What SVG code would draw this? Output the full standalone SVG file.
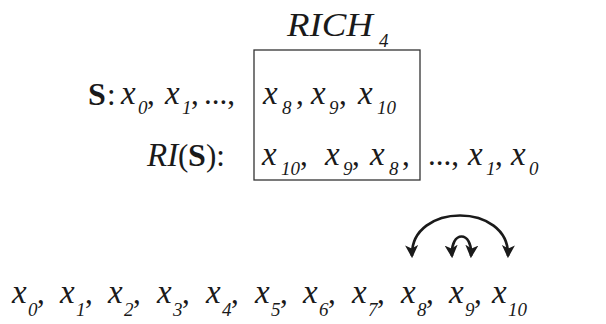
<svg xmlns="http://www.w3.org/2000/svg" width="606" height="324" viewBox="0 0 606 324">
<style>
text{font-family:"Liberation Serif","Times New Roman",serif;fill:#1a1a1a}
.m{font-style:italic;font-size:33px}
.s{font-style:italic;font-size:19px}
.b{font-weight:bold;font-size:32px}
.r{font-size:31px}
.arc{fill:none;stroke:#1a1a1a;stroke-width:2.6}
</style>
<defs>
<marker id="ah" viewBox="0 0 12 12" refX="10" refY="6" markerWidth="13" markerHeight="13" markerUnits="userSpaceOnUse" orient="auto-start-reverse">
<path d="M0,0 L12,6 L0,12 L3,6 Z" fill="#1a1a1a"/>
</marker>
</defs>
<g id="rich">
<text class="m" x="287" y="36" textLength="86" lengthAdjust="spacingAndGlyphs">RICH</text>
<text class="s" x="379" y="47">4</text>
</g>
<g id="box">
<rect x="254" y="50" width="166" height="130" fill="none" stroke="#333" stroke-width="1.3"/>
</g>
<g id="row-s">
<text class="b" x="88" y="105">S</text><text class="r" x="107" y="105">:</text>
<text class="m" x="121" y="104">x</text><text class="s" x="138" y="114">0</text><text class="r" x="147" y="104">,</text>
<text class="m" x="165" y="104">x</text><text class="s" x="182" y="114">1</text><text class="r" x="191" y="104">,</text>
<text class="r" x="204" y="104">...,</text>
<text class="m" x="263" y="104">x</text><text class="s" x="282" y="114">8</text><text class="r" x="296" y="104">,</text>
<text class="m" x="311" y="104">x</text><text class="s" x="329" y="114">9</text><text class="r" x="339" y="104">,</text>
<text class="m" x="358" y="104">x</text><text class="s" x="377" y="114">10</text>
</g>
<g id="row-ri">
<text class="m" x="147" y="166">RI</text><text class="r" x="178" y="166">(</text><text class="b" x="188" y="166">S</text><text class="r" x="206" y="166">):</text>
<text class="m" x="262" y="165">x</text><text class="s" x="281" y="175">10</text><text class="r" x="300" y="165">,</text>
<text class="m" x="325" y="165">x</text><text class="s" x="343" y="175">9</text><text class="r" x="352" y="165">,</text>
<text class="m" x="370" y="165">x</text><text class="s" x="389" y="175">8</text><text class="r" x="402" y="165">,</text>
<text class="r" x="428" y="165">...,</text>
<text class="m" x="468" y="165">x</text><text class="s" x="486" y="175">1</text><text class="r" x="495" y="165">,</text>
<text class="m" x="511" y="165">x</text><text class="s" x="529" y="175">0</text>
</g>
<g id="bottom-row">
<text class="m" x="12" y="303">x</text><text class="s" x="28" y="316">0</text><text class="r" x="37" y="303">,</text>
<text class="m" x="60" y="303">x</text><text class="s" x="76" y="316">1</text><text class="r" x="85" y="303">,</text>
<text class="m" x="108" y="303">x</text><text class="s" x="124" y="316">2</text><text class="r" x="133" y="303">,</text>
<text class="m" x="157" y="303">x</text><text class="s" x="173" y="316">3</text><text class="r" x="182" y="303">,</text>
<text class="m" x="206" y="303">x</text><text class="s" x="222" y="316">4</text><text class="r" x="231" y="303">,</text>
<text class="m" x="255" y="303">x</text><text class="s" x="271" y="316">5</text><text class="r" x="280" y="303">,</text>
<text class="m" x="303" y="303">x</text><text class="s" x="319" y="316">6</text><text class="r" x="328" y="303">,</text>
<text class="m" x="352" y="303">x</text><text class="s" x="368" y="316">7</text><text class="r" x="377" y="303">,</text>
<text class="m" x="401" y="303">x</text><text class="s" x="417" y="316">8</text><text class="r" x="426" y="303">,</text>
<text class="m" x="449" y="303">x</text><text class="s" x="465" y="316">9</text><text class="r" x="474" y="303">,</text>
<text class="m" x="492" y="303">x</text><text class="s" x="508" y="316">10</text>
</g>
<g id="connectors">
<path class="arc" d="M412,256 C410,202 510,202 508,256" marker-start="url(#ah)" marker-end="url(#ah)"/>
<path class="arc" d="M452,256 C450,230 473,230 471,256" marker-start="url(#ah)" marker-end="url(#ah)"/>
</g>
</svg>
